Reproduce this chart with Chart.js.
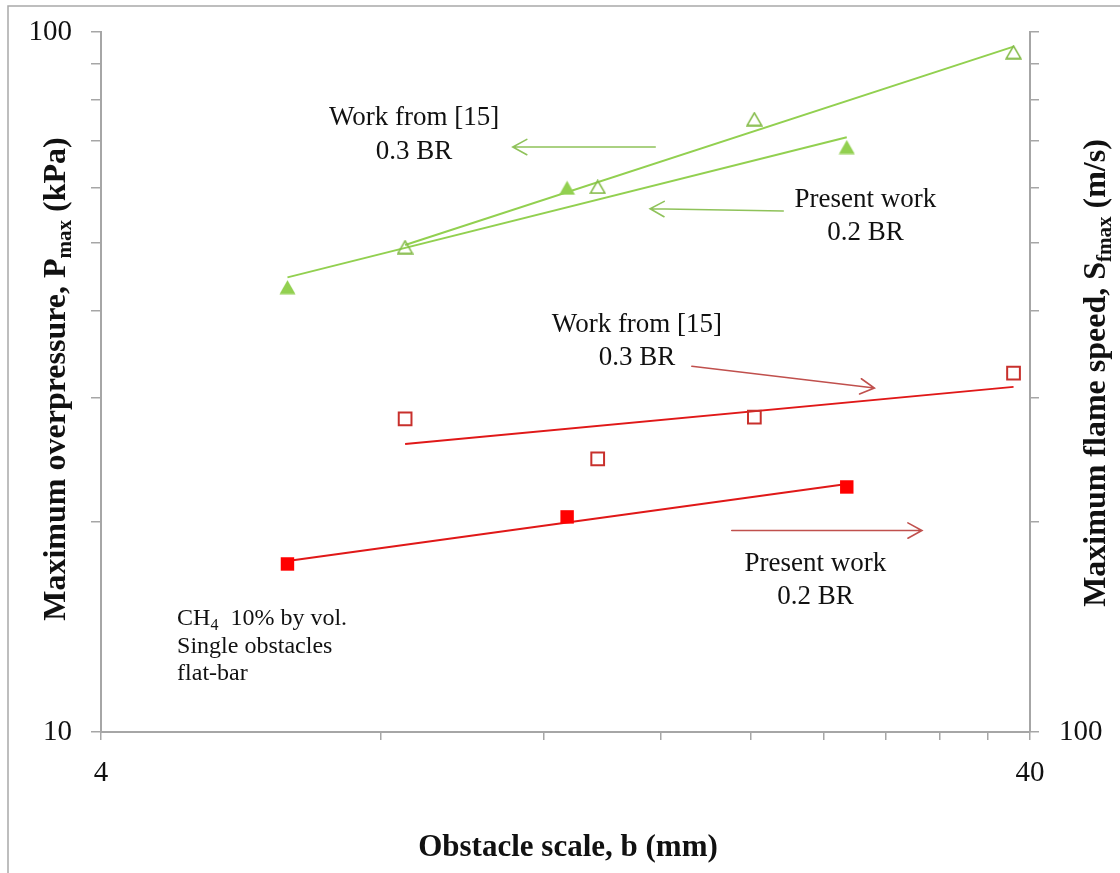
<!DOCTYPE html>
<html>
<head>
<meta charset="utf-8">
<script src="https://cdn.jsdelivr.net/npm/chart.js@4.4.0/dist/chart.umd.min.js"></script>
<style>
  html, body { margin: 0; padding: 0; background: #ffffff; }
  #wrap { width: 1120px; height: 873px; position: relative; }
</style>
</head>
<body>
<div id="wrap"><canvas id="chart"></canvas></div>
<script>
// Obstacle scale b (mm)
const obstacleScalePresent = [6.35, 12.7, 25.4];
const obstacleScaleRef15 = [8.5, 13.7, 20.2, 38.4];

// Maximum overpressure Pmax (kPa), left axis
const pmaxPresent = [43.2, 59.9, 68.5];
const pmaxRef15 = [49.3, 60.1, 75.1, 93.6];

// Maximum flame speed Sfmax (m/s), right axis
const sfmaxPresent = [173.8, 202.9, 223.9];
const sfmaxRef15 = [280.2, 245.5, 281.8, 325.7];

// Tick values and their labels
const xTickValues = [4, 8, 12, 16, 20, 24, 28, 32, 36, 40];
const xTickLabels = ['4', '', '', '', '', '', '', '', '', '40'];
const yTickValues = [10, 20, 30, 40, 50, 60, 70, 80, 90, 100];
const yTickLabels = ['10', '', '', '', '', '', '', '', '', '100'];
const y2TickValues = [100, 200, 300, 400, 500, 600, 700, 800, 900, 1000];
const y2TickLabels = ['100', '', '', '', '', '', '', '', '', ''];

// Annotation texts, placed in data units (x in mm, y in kPa)
const noteTexts = [
  { lines: ['Work from [15]', '0.3 BR'], x: 8.69, y: [75.4, 67.4] },
  { lines: ['Present work', '0.2 BR'], x: 26.6, y: [57.5, 51.6] },
  { lines: ['Work from [15]', '0.3 BR'], x: 15.1, y: [38.1, 34.2] },
  { lines: ['Present work', '0.2 BR'], x: 23.5, y: [17.4, 15.6] }
];
// Arrows pointing at the axis each group belongs to
const noteArrows = [
  { from: [15.8, 68.5], to: [11.1, 68.5], color: '#8fc25a' },
  { from: [21.7, 55.5], to: [15.6, 55.9], color: '#8fc25a' },
  { from: [17.3, 33.3], to: [27.2, 31.0], color: '#c0504d' },
  { from: [19.1, 19.4], to: [30.6, 19.4], color: '#c0504d' }
];
const mixtureNote = { x: 4.83, y: [14.6, 13.3, 12.2] };

const GREEN = '#92d050';
const GREEN_OPEN = '#84bb48';
const RED = '#ff0000';
const RED_LINE = '#e01818';
const RED_OPEN = '#c8302c';
const AXIS = '#a6a6a6';
const SERIF = '"Liberation Serif", "Times New Roman", serif';

// Least-squares power-law trend y = a*x^b, spanning the data range
function powerTrend(xs, ys) {
  const n = xs.length;
  const lx = xs.map(Math.log), ly = ys.map(Math.log);
  const mx = lx.reduce((s, v) => s + v, 0) / n;
  const my = ly.reduce((s, v) => s + v, 0) / n;
  let sxy = 0, sxx = 0;
  for (let i = 0; i < n; i++) {
    sxy += (lx[i] - mx) * (ly[i] - my);
    sxx += (lx[i] - mx) * (lx[i] - mx);
  }
  const b = sxy / sxx;
  const a = Math.exp(my - b * mx);
  const x0 = Math.min(...xs), x1 = Math.max(...xs);
  return [{ x: x0, y: a * Math.pow(x0, b) }, { x: x1, y: a * Math.pow(x1, b) }];
}

function pairs(xs, ys) { return xs.map((x, i) => ({ x: x, y: ys[i] })); }

// Triangle markers centred on their bounding box
function triangleMarker(filled) {
  const c = document.createElement('canvas');
  c.width = 17; c.height = 15;
  const g = c.getContext('2d');
  g.beginPath();
  if (filled) {
    g.moveTo(8.5, 0.5); g.lineTo(16.5, 14.5); g.lineTo(0.5, 14.5); g.closePath();
    g.fillStyle = GREEN; g.fill();
  } else {
    g.moveTo(8.5, 1.3); g.lineTo(15.8, 13.9); g.lineTo(1.2, 13.9); g.closePath();
    g.strokeStyle = GREEN_OPEN; g.lineWidth = 1.6; g.stroke();
  }
  return c;
}

function tickCallback(values, labels) {
  return function (value) {
    const i = values.indexOf(Number(value));
    return i >= 0 ? labels[i] : '';
  };
}

function axisCommon(values, labels, tickLen, pad) {
  return {
    type: 'logarithmic',
    afterBuildTicks: (scale) => { scale.ticks = values.map(v => ({ value: v })); },
    grid: {
      display: true, drawOnChartArea: false, drawTicks: true,
      tickLength: tickLen, tickColor: AXIS, tickWidth: 1.5, color: AXIS, lineWidth: 1.5
    },
    border: { display: true, color: AXIS, width: 2 },
    ticks: {
      callback: tickCallback(values, labels),
      autoSkip: false, maxRotation: 0, minRotation: 0,
      padding: pad, color: '#111111',
      font: { family: SERIF, size: 29 }
    }
  };
}

// Text made of pieces, some set as subscripts
function richWidth(ctx, parts) {
  let w = 0;
  parts.forEach(p => { ctx.font = p.font; w += ctx.measureText(p.t).width; });
  return w;
}
function drawRich(ctx, parts, x, y, align) {
  let cx = align === 'center' ? x - richWidth(ctx, parts) / 2 : x;
  ctx.textAlign = 'left';
  ctx.textBaseline = 'alphabetic';
  parts.forEach(p => {
    ctx.font = p.font;
    ctx.fillText(p.t, cx, y + (p.dy || 0));
    cx += ctx.measureText(p.t).width;
  });
}

function drawArrow(ctx, x0, y0, x1, y1, color) {
  const ang = Math.atan2(y1 - y0, x1 - x0);
  const len = 16, spread = 0.5;
  ctx.save();
  ctx.strokeStyle = color;
  ctx.lineWidth = 1.6;
  ctx.lineCap = 'round';
  ctx.beginPath();
  ctx.moveTo(x0, y0); ctx.lineTo(x1, y1);
  ctx.moveTo(x1 - len * Math.cos(ang - spread), y1 - len * Math.sin(ang - spread));
  ctx.lineTo(x1, y1);
  ctx.lineTo(x1 - len * Math.cos(ang + spread), y1 - len * Math.sin(ang + spread));
  ctx.stroke();
  ctx.restore();
}

const decorations = {
  id: 'decorations',
  beforeDraw(chart) {
    const ctx = chart.ctx;
    ctx.save();
    ctx.fillStyle = '#ffffff';
    ctx.fillRect(0, 0, chart.width, chart.height);
    ctx.strokeStyle = '#a9a9a9';
    ctx.lineWidth = 1.5;
    ctx.beginPath();
    ctx.moveTo(8, chart.height); ctx.lineTo(8, 6); ctx.lineTo(chart.width, 6);
    ctx.stroke();
    ctx.restore();
  },
  afterDraw(chart) {
    const ctx = chart.ctx;
    const sx = chart.scales.x, sy = chart.scales.y;
    ctx.save();
    ctx.fillStyle = '#111111';

    // annotation labels
    ctx.font = '27px ' + SERIF;
    ctx.textAlign = 'center';
    ctx.textBaseline = 'middle';
    noteTexts.forEach(n => {
      n.lines.forEach((line, i) => {
        ctx.fillText(line, sx.getPixelForValue(n.x), sy.getPixelForValue(n.y[i]));
      });
    });
    noteArrows.forEach(a => {
      drawArrow(ctx,
        sx.getPixelForValue(a.from[0]), sy.getPixelForValue(a.from[1]),
        sx.getPixelForValue(a.to[0]), sy.getPixelForValue(a.to[1]), a.color);
    });

    // mixture note
    const mx = sx.getPixelForValue(mixtureNote.x);
    const f24 = '24px ' + SERIF, f16 = '16px ' + SERIF;
    drawRich(ctx, [
      { t: 'CH', font: f24 }, { t: '4', font: f16, dy: 5 }, { t: '  10% by vol.', font: f24 }
    ], mx, sy.getPixelForValue(mixtureNote.y[0]) + 8, 'left');
    ctx.font = f24;
    ctx.textAlign = 'left';
    ctx.fillText('Single obstacles', mx, sy.getPixelForValue(mixtureNote.y[1]) + 8);
    ctx.fillText('flat-bar', mx, sy.getPixelForValue(mixtureNote.y[2]) + 8);

    // axis titles
    const fb = 'bold 32px ' + SERIF, fs = 'bold 21px ' + SERIF;
    ctx.save();
    ctx.translate(65, 379);
    ctx.rotate(-Math.PI / 2);
    drawRich(ctx, [
      { t: 'Maximum overpressure, P', font: fb },
      { t: 'max', font: fs, dy: 6 },
      { t: ' (kPa)', font: fb }
    ], 0, 0, 'center');
    ctx.restore();

    ctx.save();
    ctx.translate(1105, 373);
    ctx.rotate(-Math.PI / 2);
    drawRich(ctx, [
      { t: 'Maximum flame speed, S', font: fb },
      { t: 'fmax', font: fs, dy: 6 },
      { t: ' (m/s)', font: fb }
    ], 0, 0, 'center');
    ctx.restore();

    drawRich(ctx, [{ t: 'Obstacle scale, b (mm)', font: 'bold 31px ' + SERIF }], 568, 856, 'center');
    ctx.restore();
  }
};

// Fixed box sizes keep the plot area at a set place on the page
const xAxis = axisCommon(xTickValues, xTickLabels, 8, 16);
Object.assign(xAxis, { position: 'bottom', min: 4, max: 40, afterFit: s => { s.height = 141; } });
const yAxis = axisCommon(yTickValues, yTickLabels, 10, 19);
Object.assign(yAxis, { position: 'left', min: 10, max: 100, afterFit: s => {
  s.width = 101; s.paddingTop = 0; s.paddingBottom = 0;
} });
const y2Axis = axisCommon(y2TickValues, y2TickLabels, 9, 20);
Object.assign(y2Axis, { position: 'right', min: 100, max: 1000, afterFit: s => {
  s.width = 90; s.paddingTop = 0; s.paddingBottom = 0;
} });

new Chart(document.getElementById('chart'), {
  type: 'scatter',
  data: {
    datasets: [
      {
        label: 'Pmax, present work 0.2 BR', yAxisID: 'y',
        data: pairs(obstacleScalePresent, pmaxPresent),
        pointStyle: triangleMarker(true), pointRadius: 8
      },
      {
        label: 'Pmax, work from [15] 0.3 BR', yAxisID: 'y',
        data: pairs(obstacleScaleRef15, pmaxRef15),
        pointStyle: triangleMarker(false), pointRadius: 8
      },
      {
        label: 'Sfmax, present work 0.2 BR', yAxisID: 'y2',
        data: pairs(obstacleScalePresent, sfmaxPresent),
        pointStyle: 'rect', pointRadius: 9.5, borderWidth: 0,
        backgroundColor: RED, borderColor: RED
      },
      {
        label: 'Sfmax, work from [15] 0.3 BR', yAxisID: 'y2',
        data: pairs(obstacleScaleRef15, sfmaxRef15),
        pointStyle: 'rect', pointRadius: 9, borderWidth: 2,
        backgroundColor: 'rgba(255,255,255,0)', borderColor: RED_OPEN
      },
      {
        label: 'Pmax trend, present work', yAxisID: 'y',
        data: powerTrend(obstacleScalePresent, pmaxPresent),
        showLine: true, pointRadius: 0, borderColor: GREEN, borderWidth: 2
      },
      {
        label: 'Pmax trend, work from [15]', yAxisID: 'y',
        data: powerTrend(obstacleScaleRef15, pmaxRef15),
        showLine: true, pointRadius: 0, borderColor: GREEN, borderWidth: 2
      },
      {
        label: 'Sfmax trend, present work', yAxisID: 'y2',
        data: powerTrend(obstacleScalePresent, sfmaxPresent),
        showLine: true, pointRadius: 0, borderColor: RED_LINE, borderWidth: 2
      },
      {
        label: 'Sfmax trend, work from [15]', yAxisID: 'y2',
        data: powerTrend(obstacleScaleRef15, sfmaxRef15),
        showLine: true, pointRadius: 0, borderColor: RED_LINE, borderWidth: 2
      }
    ]
  },
  options: {
    responsive: true,
    maintainAspectRatio: false,
    animation: false,
    devicePixelRatio: 1,
    layout: { padding: { top: 32, left: 0, right: 0, bottom: 0 } },
    plugins: { legend: { display: false }, tooltip: { enabled: false } },
    scales: { x: xAxis, y: yAxis, y2: y2Axis }
  },
  plugins: [decorations]
});
</script>
</body>
</html>
